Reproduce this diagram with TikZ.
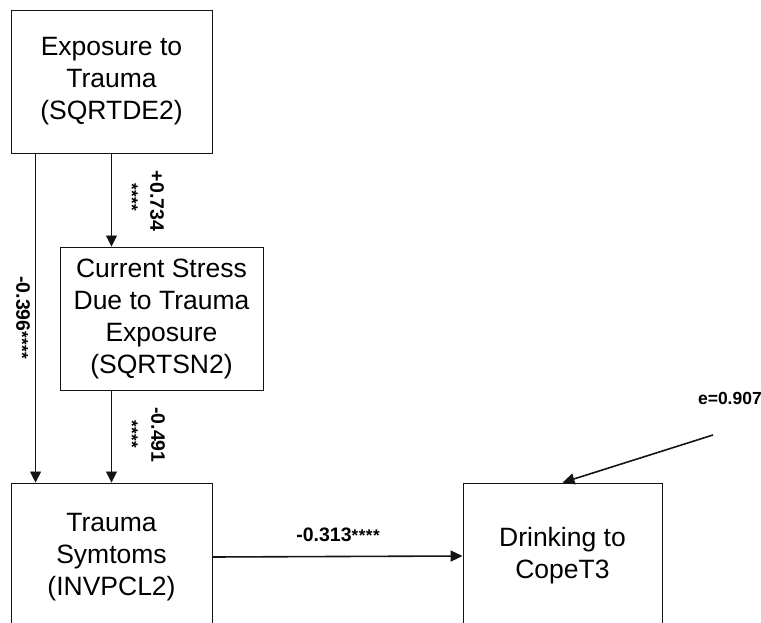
\documentclass[tikz,border=0pt]{standalone}
\usepackage{fontspec}
\setmainfont{Liberation Sans}
\usepackage{xcolor}
\usetikzlibrary{arrows.meta,calc}
\definecolor{figline}{RGB}{20,20,20}
\newcommand{\sigstars}{{\fontsize{17}{17}\selectfont\bfseries *\kern0.5pt*\kern0.5pt*\kern0.5pt*}}
\tikzset{
  bx/.style   ={draw=figline, line width=0.9pt, align=center, inner sep=0pt, font=\fontsize{26.5}{32}\selectfont},
  lab/.style  ={font=\fontsize{19.5}{19.5}\selectfont\bfseries, inner sep=1pt},
  labs/.style ={inner sep=1pt},
  ptr/.style  ={draw=figline, line width=0.8pt, -{Triangle[length=11pt,width=11pt]}},
  ptrb/.style ={draw=figline, line width=1.6pt, -{Triangle[length=12pt,width=11pt]}},
}
\begin{document}
\begin{tikzpicture}[x=1pt,y=-1pt]
  \useasboundingbox (0,0) rectangle (761,623);
  \clip (0,0) rectangle (761,623);
  % boxes
  \node[bx,minimum width=201pt,minimum height=143pt] (exposure) at (111.5,81.5) {Exposure to\\Trauma\\(SQRTDE2)};
  \node[bx,minimum width=203pt,minimum height=143pt] (stress) at (161.5,318.5) {Current Stress\\Due to Trauma\\Exposure\\(SQRTSN2)};
  \node[bx,minimum width=201pt,minimum height=148pt] (symptoms) at (111.5,557) {Trauma\\Symtoms\\(INVPCL2)};
  \node[bx,minimum width=199pt,minimum height=146pt] (drinking) at (562.5,556) {Drinking to\\CopeT3};
  \coordinate (err) at (713,435);
  % paths
  \draw[ptr] ([xshift=25pt]exposure.south west) -- ([xshift=25pt]symptoms.north west);
  \draw[ptr] (exposure.south) -- (exposure.south |- stress.north);
  \draw[ptr] (symptoms.north |- stress.south) -- (symptoms.north);
  \draw[ptrb] (symptoms.east) -- (drinking.west);
  \draw[ptrb] (err) -- ([xshift=100pt]drinking.north west);
  % coefficients
  \node[lab,rotate=-90] (c734) at (157,201) {+0.734};
  \node[labs,rotate=-90] (s734) at (132,197) {\sigstars};
  \node[lab,rotate=-90] (c491) at (158,435) {-0.491};
  \node[labs,rotate=-90] (s491) at (132,434) {\sigstars};
  \node[lab,rotate=-90] (c396) at (23,318) {-0.396\sigstars};
  \node[lab] (c313) at (338,535) {-0.313\sigstars};
  \node[lab,anchor=east,font=\fontsize{17.5}{17.5}\selectfont\bfseries] (cerr) at (763,398) {e=0.907};
\end{tikzpicture}
\end{document}
